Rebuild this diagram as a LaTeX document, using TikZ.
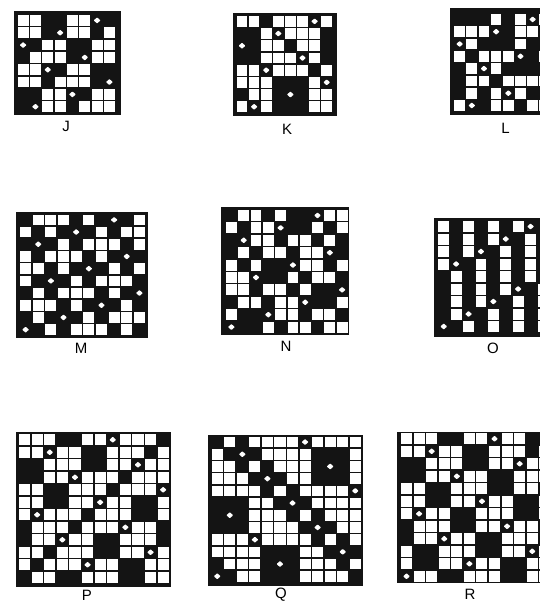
\documentclass[tikz,border=0pt]{standalone}
\usepackage{fontspec}
\setmainfont{Liberation Sans}
\tikzset{
  framebox/.style={fill=black!92},
  cellbox/.style={fill=white},
  dotmark/.style={fill=white, rounded corners=0.6pt},
  panellabel/.style={font=\fontsize{15}{15}\selectfont, inner sep=0pt}
}
% 0 = black, 1 = white square, 2 = black with white spot
\newcommand{\weavepanel}[9]{
  \fill[framebox] (#1,#2) rectangle (#3,#4);
  \foreach \rowcells [count=\rowno] in {#9}
  {
    \foreach \cellval [count=\colno] in \rowcells
    {
      \pgfmathsetmacro{\cx}{#5+(\colno-1)*#7}
      \pgfmathsetmacro{\cy}{#6+(\rowno-1)*#8}
      \ifnum\cellval=1
        \fill[cellbox] (\cx,\cy) rectangle +({#7-1.5},{#8-1.5});
      \fi
      \ifnum\cellval=2
        \pgfmathsetmacro{\mx}{\cx+(#7-1.5)/2}
        \pgfmathsetmacro{\my}{\cy+(#8-1.5)/2}
        \fill[dotmark] (\mx,\my) +(3.4,0) -- +(0,3) -- +(-3.4,0) -- +(0,-3) -- cycle;
      \fi
    }
  }
}
\begin{document}
\begin{tikzpicture}[x=1pt,y=-1pt]
    \useasboundingbox (0,0) rectangle (540,603);
    \clip (0,0) rectangle (540,603);

    \weavepanel{14.3}{11}{120.5}{115}{17.7}{15}{12.33}{12.33}{
      {1,1,0,0,1,1,2,0},{1,1,0,2,1,1,0,1},{2,0,1,1,0,0,1,1},{0,1,1,1,0,2,1,1},
      {1,1,2,0,1,1,0,0},{1,1,0,1,1,1,0,2},{0,0,1,1,2,0,1,1},{0,2,1,1,0,1,1,1}}
    \weavepanel{233.3}{12.7}{337}{115.5}{236.7}{16}{12.1}{12.2}{
      {1,1,0,1,1,1,2,1},{0,0,1,2,1,1,1,0},{2,0,1,1,0,1,1,0},{0,0,1,1,1,2,1,0},
      {1,1,2,1,1,1,0,1},{1,1,1,0,0,0,1,2},{0,1,1,0,2,0,1,1},{1,2,1,0,0,0,1,1}}
    \weavepanel{450}{8.3}{545}{115}{454.3}{14}{12.17}{12.3}{
      {0,0,0,1,0,1,2,1},{1,1,1,2,0,1,1,0},{2,1,0,0,0,1,0,0},{1,0,1,1,1,2,0,1},
      {0,1,2,1,0,0,0,0},{0,1,1,0,1,1,1,1},{0,1,0,1,2,1,0,0},{1,2,0,1,1,0,1,1}}

    \weavepanel{15.7}{212}{147.5}{338.3}{20}{214.5}{12.65}{12.2}{
      {0,1,1,1,0,1,0,2,0,1},{1,0,1,0,2,0,1,0,1,1},{0,2,0,1,0,1,1,1,0,1},{1,0,1,1,1,0,1,0,2,0},
      {1,1,0,1,0,2,0,1,0,1},{1,0,2,0,1,0,1,1,1,0},{0,1,0,1,1,1,0,1,0,2},{1,1,1,0,1,0,2,0,1,0},
      {0,1,0,2,0,1,0,1,1,1},{2,0,1,0,1,1,1,0,1,0}}
    \weavepanel{221}{207.3}{349}{335}{226}{210}{12.3}{12.4}{
      {0,1,1,0,1,0,0,2,1,1},{1,0,1,1,2,0,0,1,0,1},{0,2,1,1,0,1,1,0,1,0},{0,1,0,1,1,0,1,1,2,0},
      {1,0,1,0,0,2,1,1,0,1},{1,1,2,0,0,1,0,1,1,0},{1,1,0,1,1,0,1,0,0,2},{0,1,1,0,1,1,2,0,0,1},
      {1,0,0,2,1,1,0,1,1,0},{2,0,0,1,0,1,1,0,1,1}}
    \weavepanel{434}{218.3}{545}{336.7}{438.3}{221}{12.4}{12.5}{
      {1,0,1,0,1,0,1,2,0},{1,0,1,0,1,2,0,1,0},{1,0,1,2,0,1,0,1,0},{1,2,0,1,0,1,0,1,0},
      {0,1,0,1,0,1,0,1,2},{0,1,0,1,0,1,2,0,1},{0,1,0,1,2,0,1,0,1},{0,1,2,0,1,0,1,0,1},
      {2,0,1,0,1,0,1,0,1}}

    \weavepanel{15.7}{432.3}{170.5}{586.7}{19}{434.3}{12.6}{12.5}{
      {1,1,1,0,0,1,1,2,1,1,1,0},{1,1,2,1,1,0,0,1,1,1,0,1},{0,0,1,1,1,0,0,1,1,2,1,1},
      {0,0,1,1,2,1,1,1,0,1,1,1},{1,1,0,0,1,1,1,0,1,1,1,2},{1,1,0,0,1,1,2,1,1,0,0,1},
      {1,2,1,1,1,0,1,1,1,0,0,1},{0,1,1,1,0,1,1,1,2,1,1,0},{0,1,1,2,1,1,0,0,1,1,1,0},
      {1,1,0,1,1,1,0,0,1,1,2,1},{1,0,1,1,1,2,1,1,0,0,1,1},{0,1,1,0,0,1,1,1,0,0,1,1}}
    \weavepanel{208.3}{435}{363}{585.7}{211.7}{436.7}{12.55}{12.2}{
      {0,1,0,1,1,1,1,2,1,1,1,1},{1,0,2,0,1,1,1,1,0,0,0,1},{1,1,0,1,0,1,1,1,0,2,0,1},
      {1,1,1,0,2,0,1,1,0,0,0,1},{1,1,1,1,0,1,0,1,1,1,1,2},{0,0,0,1,1,0,2,0,1,1,1,1},
      {0,2,0,1,1,1,0,1,0,1,1,1},{0,0,0,1,1,1,1,0,2,0,1,1},{1,1,1,2,1,1,1,1,0,1,0,1},
      {1,1,1,1,0,0,0,1,1,0,2,0},{0,1,1,1,0,2,0,1,1,1,0,1},{2,0,1,1,0,0,0,1,1,1,1,0}}
    \weavepanel{396.7}{431.7}{545}{583}{401}{433.3}{12.57}{12.5}{
      {1,1,1,0,0,1,1,2,1,1,0,0},{1,1,2,1,1,0,0,1,1,1,0,1},{0,0,1,1,1,0,0,1,1,2,1,1},
      {0,0,1,1,2,1,1,0,0,1,1,1},{1,1,0,0,1,1,1,0,0,1,1,2},{1,1,0,0,1,1,2,1,1,0,0,1},
      {1,2,1,1,0,0,1,1,1,0,0,1},{0,1,1,1,0,0,1,1,2,1,1,0},{0,1,1,2,1,1,0,0,1,1,1,0},
      {1,0,0,1,1,1,0,0,1,1,2,1},{1,0,0,1,1,2,1,1,0,0,1,1},{2,1,1,0,0,1,1,1,0,0,1,1}}

    \node[panellabel] (labelJ) at (66,126) {J};
    \node[panellabel] (labelK) at (287,129) {K};
    \node[panellabel] (labelL) at (505.5,128.5) {L};
    \node[panellabel] (labelM) at (81,348) {M};
    \node[panellabel] (labelN) at (286,346.5) {N};
    \node[panellabel] (labelO) at (493,348) {O};
    \node[panellabel] (labelP) at (87,595) {P};
    \node[panellabel] (labelQ) at (281,595) {Q};
    \node[panellabel] (labelR) at (470,594.5) {R};
\end{tikzpicture}
\end{document}
